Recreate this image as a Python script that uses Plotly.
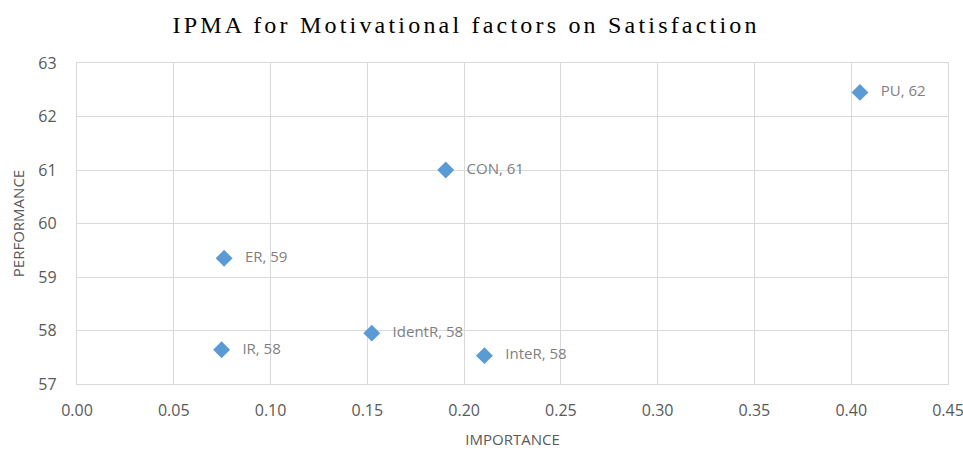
import plotly.graph_objects as go

names = ["PU", "CON", "ER", "IdentR", "IR", "InteR"]
importance = [0.4045, 0.1905, 0.076, 0.1523, 0.0747, 0.2105]
performance = [62.45, 61.0, 59.35, 57.95, 57.64, 57.53]
x_ticks = [0.00, 0.05, 0.10, 0.15, 0.20, 0.25, 0.30, 0.35, 0.40, 0.45]
y_ticks = [57, 58, 59, 60, 61, 62, 63]

labels = ["   " + f"{n}, {round(p)}" for n, p in zip(names, performance)]

fig = go.Figure()
fig.add_trace(go.Scatter(
    x=importance, y=performance, mode="markers+text",
    text=labels, textposition="middle right",
    textfont=dict(family="Open Sans", size=15, color="#7f7f7f"),
    marker=dict(symbol="diamond", size=13, color="#5B9BD5"),
    showlegend=False, cliponaxis=False,
))

axis_common = dict(
    showgrid=True, gridcolor="#d9d9d9", gridwidth=1.3,
    showline=True, linecolor="#d9d9d9", linewidth=1.3, mirror=True,
    zeroline=False, ticks="outside", tickcolor="rgba(0,0,0,0)",
    automargin=False, ticklabeloverflow="allow",
    tickfont=dict(family="Open Sans", size=16, color="#595959"),
)

fig.update_layout(
    width=963, height=454,
    paper_bgcolor="white", plot_bgcolor="white",
    margin=dict(l=77, r=15, t=63, b=70),
    title=dict(text="IPMA for Motivational factors on Satisfaction",
               x=0.484, xanchor="center", y=0.945, yanchor="middle",
               font=dict(family="Liberation Serif", size=24, color="#000000")),
    xaxis=dict(range=[0, 0.45], tickvals=x_ticks, ticklen=12,
               ticktext=[f"{v:.2f}" for v in x_ticks],
               title=dict(text="IMPORTANCE", standoff=14,
                          font=dict(family="Open Sans", size=15, color="#595959")),
               **axis_common),
    yaxis=dict(range=[57, 63], tickvals=y_ticks, ticklen=16,
               ticktext=[str(v) for v in y_ticks],
               title=dict(text="PERFORMANCE", standoff=10,
                          font=dict(family="Open Sans", size=15, color="#595959")),
               **axis_common),
)

post = """
(function(){
  document.body.style.margin='0';
  document.body.style.padding='0';
  function fix(){
    document.querySelectorAll('.gtitle').forEach(function(e){e.style.letterSpacing='3.2px';});
  }
  fix();
  var gd=document.getElementsByClassName('plotly-graph-div')[0];
  if(gd && gd.on){gd.on('plotly_afterplot', fix);}
})();
"""

fig.write_html("out.html", post_script=post, config={"displayModeBar": False})
